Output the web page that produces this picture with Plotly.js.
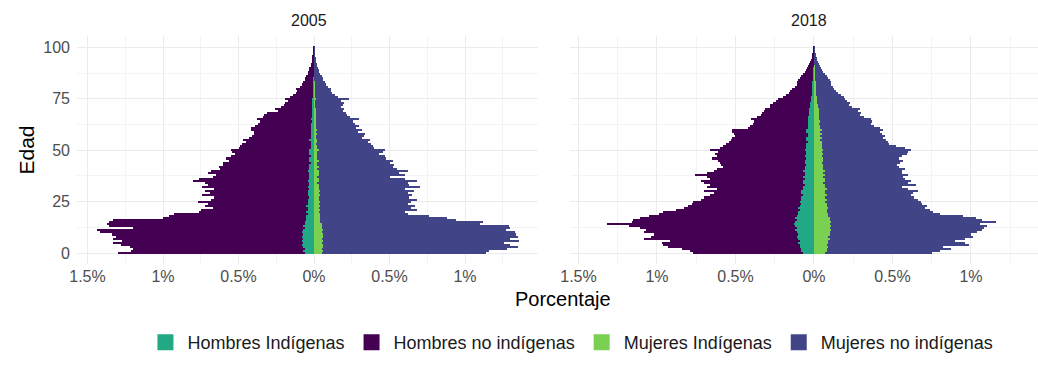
<!DOCTYPE html>
<html><head><meta charset="utf-8">
<script src="https://cdn.plot.ly/plotly-3.0.1.min.js"></script>
<style>html,body{margin:0;padding:0;background:#fff}</style>
</head><body><div id="chart" style="width:1038px;height:381px"></div>
<script>
// Edades 0..100 (categorías)
const edades = Array.from({length:101}, (_, i) => i);

// 2005 (porcentaje del total)
const h_noind_2005 = [1.30,1.21,1.20,1.22,1.28,1.33,1.27,1.33,1.31,1.34,
 1.42,1.44,1.20,1.36,1.37,1.36,1.33,1.00,0.96,0.93,
 0.76,0.75,0.67,0.72,0.70,0.77,0.68,0.66,0.74,0.69,
 0.72,0.66,0.74,0.70,0.72,0.80,0.76,0.67,0.65,0.70,
 0.68,0.62,0.63,0.60,0.60,0.56,0.58,0.55,0.52,0.54,
 0.55,0.50,0.49,0.48,0.45,0.47,0.43,0.41,0.40,0.40,
 0.42,0.42,0.39,0.37,0.36,0.38,0.34,0.33,0.31,0.24,
 0.26,0.22,0.20,0.19,0.17,0.19,0.16,0.14,0.12,0.11,
 0.12,0.09,0.08,0.07,0.06,0.06,0.05,0.04,0.04,0.03,
 0.03,0.02,0.02,0.015,0.012,0.012,0.01,0.008,0.008,0.006,
 0.005];
const h_ind_2005 = [0.06,0.07,0.06,0.07,0.08,0.07,0.08,0.07,0.08,0.07,
 0.08,0.07,0.06,0.07,0.06,0.06,0.05,0.05,0.05,0.04,
 0.05,0.04,0.04,0.05,0.04,0.04,0.04,0.03,0.04,0.04,
 0.04,0.03,0.04,0.03,0.03,0.04,0.03,0.03,0.03,0.03,
 0.04,0.03,0.03,0.03,0.02,0.03,0.03,0.02,0.03,0.03,
 0.03,0.02,0.02,0.02,0.02,0.03,0.02,0.02,0.02,0.02,
 0.02,0.02,0.02,0.02,0.015,0.02,0.015,0.015,0.015,0.01,
 0.015,0.01,0.01,0.01,0.01,0.012,0.008,0.008,0.008,0.006,
 0.008,0.005,0.005,0.005,0.004,0.004,0.003,0.003,0.003,0.002,
 0.002,0.002,0.001,0.001,0.001,0.001,0.001,0.001,0.0005,0.0005,
 0.0005];
const m_noind_2005 = [1.14,1.16,1.28,1.35,1.30,1.26,1.36,1.30,1.35,1.34,
 1.33,1.27,1.30,1.29,1.10,1.12,0.94,0.88,0.76,0.62,
 0.60,0.68,0.64,0.67,0.62,0.64,0.68,0.63,0.65,0.62,
 0.66,0.60,0.70,0.63,0.62,0.68,0.60,0.50,0.60,0.56,
 0.62,0.55,0.52,0.53,0.50,0.52,0.48,0.47,0.43,0.46,
 0.47,0.40,0.39,0.38,0.36,0.37,0.32,0.33,0.34,0.29,
 0.32,0.28,0.30,0.27,0.26,0.30,0.24,0.22,0.21,0.19,
 0.20,0.18,0.19,0.20,0.18,0.23,0.16,0.14,0.12,0.11,
 0.11,0.09,0.08,0.07,0.06,0.06,0.05,0.04,0.035,0.03,
 0.025,0.02,0.018,0.015,0.012,0.01,0.008,0.007,0.006,0.005,
 0.004];
const m_ind_2005 = [0.05,0.06,0.05,0.06,0.06,0.05,0.06,0.05,0.06,0.06,
 0.05,0.06,0.05,0.05,0.05,0.04,0.04,0.04,0.04,0.04,
 0.03,0.04,0.03,0.04,0.03,0.04,0.03,0.03,0.04,0.03,
 0.04,0.03,0.03,0.03,0.02,0.03,0.03,0.02,0.03,0.03,
 0.03,0.02,0.03,0.02,0.02,0.03,0.02,0.02,0.02,0.02,
 0.03,0.02,0.02,0.015,0.02,0.02,0.015,0.015,0.02,0.015,
 0.02,0.015,0.015,0.01,0.015,0.015,0.01,0.01,0.01,0.01,
 0.012,0.008,0.008,0.008,0.006,0.01,0.006,0.006,0.005,0.005,
 0.006,0.004,0.004,0.004,0.003,0.003,0.003,0.002,0.002,0.002,
 0.002,0.001,0.001,0.001,0.001,0.001,0.001,0.0005,0.0005,0.0005,
 0.0005];

// 2018
const h_noind_2018 = [0.77,0.79,0.84,0.93,0.96,0.97,0.92,1.08,1.04,1.02,
 1.08,1.07,1.11,1.18,1.32,1.16,1.15,1.11,1.05,0.99,
 0.96,0.88,0.83,0.80,0.78,0.77,0.72,0.70,0.66,0.64,
 0.70,0.62,0.68,0.66,0.70,0.72,0.66,0.68,0.76,0.68,
 0.64,0.62,0.58,0.59,0.60,0.61,0.65,0.62,0.63,0.61,
 0.66,0.60,0.58,0.56,0.54,0.53,0.52,0.50,0.51,0.52,
 0.52,0.42,0.41,0.39,0.38,0.40,0.36,0.34,0.33,0.32,
 0.31,0.28,0.28,0.26,0.24,0.23,0.20,0.18,0.16,0.15,
 0.14,0.12,0.11,0.11,0.10,0.09,0.08,0.07,0.06,0.05,
 0.045,0.04,0.03,0.025,0.02,0.015,0.012,0.01,0.008,0.006,
 0.005];
const h_ind_2018 = [0.07,0.08,0.08,0.09,0.09,0.10,0.09,0.10,0.11,0.10,
 0.11,0.12,0.11,0.12,0.13,0.12,0.11,0.12,0.11,0.10,
 0.10,0.09,0.10,0.09,0.08,0.09,0.08,0.08,0.07,0.08,
 0.08,0.07,0.07,0.06,0.07,0.07,0.06,0.07,0.06,0.06,
 0.07,0.06,0.06,0.05,0.06,0.06,0.05,0.06,0.05,0.05,
 0.06,0.05,0.05,0.05,0.04,0.05,0.05,0.04,0.04,0.05,
 0.05,0.04,0.04,0.04,0.035,0.04,0.035,0.03,0.03,0.03,
 0.03,0.025,0.025,0.025,0.02,0.02,0.02,0.015,0.015,0.015,
 0.012,0.01,0.01,0.01,0.008,0.008,0.007,0.006,0.005,0.005,
 0.004,0.003,0.003,0.003,0.002,0.002,0.002,0.001,0.001,0.001,
 0.001];
const m_noind_2018 = [0.75,0.80,0.87,0.82,0.99,0.96,0.90,0.96,1.01,1.00,
 1.04,1.07,1.08,1.10,1.06,1.16,1.07,1.03,0.95,0.80,
 0.76,0.74,0.71,0.72,0.69,0.68,0.66,0.64,0.62,0.63,
 0.66,0.60,0.56,0.65,0.60,0.62,0.58,0.57,0.60,0.56,
 0.56,0.58,0.54,0.53,0.55,0.57,0.54,0.56,0.59,0.60,
 0.62,0.58,0.52,0.48,0.47,0.46,0.44,0.45,0.43,0.42,
 0.44,0.42,0.38,0.36,0.37,0.36,0.32,0.29,0.30,0.28,
 0.29,0.24,0.22,0.23,0.21,0.20,0.19,0.17,0.15,0.14,
 0.13,0.12,0.11,0.11,0.10,0.09,0.08,0.07,0.06,0.05,
 0.045,0.04,0.03,0.025,0.02,0.016,0.012,0.01,0.008,0.006,
 0.005];
const m_ind_2018 = [0.07,0.08,0.08,0.09,0.08,0.09,0.09,0.10,0.09,0.10,
 0.10,0.11,0.10,0.11,0.10,0.11,0.10,0.10,0.09,0.09,
 0.08,0.08,0.09,0.08,0.08,0.07,0.08,0.07,0.08,0.07,
 0.07,0.08,0.07,0.07,0.06,0.07,0.07,0.06,0.07,0.06,
 0.07,0.06,0.06,0.06,0.05,0.06,0.06,0.05,0.06,0.05,
 0.06,0.05,0.05,0.05,0.05,0.04,0.05,0.04,0.05,0.04,
 0.05,0.04,0.04,0.035,0.04,0.035,0.03,0.03,0.03,0.03,
 0.03,0.025,0.025,0.02,0.02,0.02,0.02,0.015,0.015,0.015,
 0.012,0.01,0.01,0.01,0.008,0.008,0.007,0.006,0.005,0.005,
 0.004,0.004,0.003,0.003,0.002,0.002,0.002,0.001,0.001,0.001,
 0.001];

const tickVals = [-1.5,-1,-0.5,0,0.5,1,1.5];
const tickText = ['1.5%','1%','0.5%','0%','0.5%','1%','1.5%'];
const grupos = ['Hombres Indígenas','Hombres no indígenas','Mujeres Indígenas','Mujeres no indígenas'];

const colores = {
  'Hombres Indígenas': '#22A884',
  'Hombres no indígenas': '#440154',
  'Mujeres Indígenas': '#7AD151',
  'Mujeres no indígenas': '#414487'
};

function tr(name, vals, sign, xa, ya) {
  return {type:'bar', orientation:'h', name:name, y:edades, x:vals.map(v => sign*v),
    xaxis:xa, yaxis:ya, marker:{color:colores[name], line:{width:0}},
    legendgroup:name, showlegend:false, hoverinfo:'skip'};
}

const data = [
  tr('Hombres no indígenas', h_noind_2005, -1, 'x', 'y'),
  tr('Mujeres no indígenas', m_noind_2005, 1, 'x', 'y'),
  tr('Hombres Indígenas', h_ind_2005, -1, 'x', 'y'),
  tr('Mujeres Indígenas', m_ind_2005, 1, 'x', 'y'),
  tr('Hombres no indígenas', h_noind_2018, -1, 'x2', 'y2'),
  tr('Mujeres no indígenas', m_noind_2018, 1, 'x2', 'y2'),
  tr('Hombres Indígenas', h_ind_2018, -1, 'x2', 'y2'),
  tr('Mujeres Indígenas', m_ind_2018, 1, 'x2', 'y2')
];
// legend entries (square keys, like the reference)
grupos.forEach((g, i) => data.push({
  type:'scatter', mode:'markers', name:g, x:[null], y:[null], xaxis:'x', yaxis:'y',
  marker:{symbol:'square', size:16, color:colores[g], line:{width:0}},
  legendgroup:g, showlegend:true, legendrank:i+1, hoverinfo:'skip'
}));

const FONT = 'Liberation Sans, Arial, sans-serif';
const tickFont = {family:FONT, size:16, color:'#4D4D4D'};
const xBase = {
  tickmode:'array', tickvals:tickVals, ticktext:tickText, tickfont:tickFont,
  showgrid:true, gridcolor:'#EBEBEB', gridwidth:1, zeroline:false, showline:false, ticks:'',
  minor:{dtick:0.25, tick0:0, showgrid:true, gridcolor:'#F4F4F4', gridwidth:1},
  fixedrange:true, ticklabelstandoff:1
};
const yBase = {
  range:[-5.35, 105.6], tickmode:'array', tickvals:[0,25,50,75,100],
  showgrid:true, gridcolor:'#EBEBEB', gridwidth:1, zeroline:false, showline:false, ticks:'',
  minor:{dtick:12.5, tick0:0, showgrid:true, gridcolor:'#F4F4F4', gridwidth:1},
  fixedrange:true
};

const layout = {
  width:1038, height:381,
  margin:{l:77, r:0, t:36, b:117},
  paper_bgcolor:'#fff', plot_bgcolor:'#fff',
  font:{family:FONT, color:'#1A1A1A'},
  barmode:'overlay', bargap:0,
  xaxis:Object.assign({}, xBase, {domain:[0, 0.4797], range:[-1.5695, 1.4834], anchor:'y'}),
  xaxis2:Object.assign({}, xBase, {domain:[0.5130, 1], range:[-1.5541, 1.4268], anchor:'y2'}),
  yaxis:Object.assign({}, yBase, {anchor:'x', tickfont:tickFont, ticklabelstandoff:6,
    title:{text:'Edad', font:{family:FONT, size:21, color:'#000'}, standoff:2}}),
  yaxis2:Object.assign({}, yBase, {anchor:'x2', matches:'y', showticklabels:false}),
  showlegend:true,
  legend:{orientation:'h', x:0.514, xanchor:'center', y:-0.345, yanchor:'middle',
    font:{family:FONT, size:18, color:'#1A1A1A'}, traceorder:'normal', itemwidth:34,
    itemsizing:'trace'},
  annotations:[
    {text:'2005', xref:'paper', yref:'paper', x:0.2414, y:1.07, showarrow:false,
     xanchor:'center', yanchor:'middle', font:{family:FONT, size:16, color:'#1A1A1A'}},
    {text:'2018', xref:'paper', yref:'paper', x:0.7617, y:1.07, showarrow:false,
     xanchor:'center', yanchor:'middle', font:{family:FONT, size:16, color:'#1A1A1A'}},
    {text:'Porcentaje', xref:'paper', yref:'paper', x:0.5057, y:-0.152, showarrow:false,
     xanchor:'center', yanchor:'middle', borderpad:0,
     font:{family:FONT, size:20, color:'#000'}}
  ]
};

Plotly.newPlot('chart', data, layout, {displayModeBar:false, staticPlot:true});
</script></body></html>
